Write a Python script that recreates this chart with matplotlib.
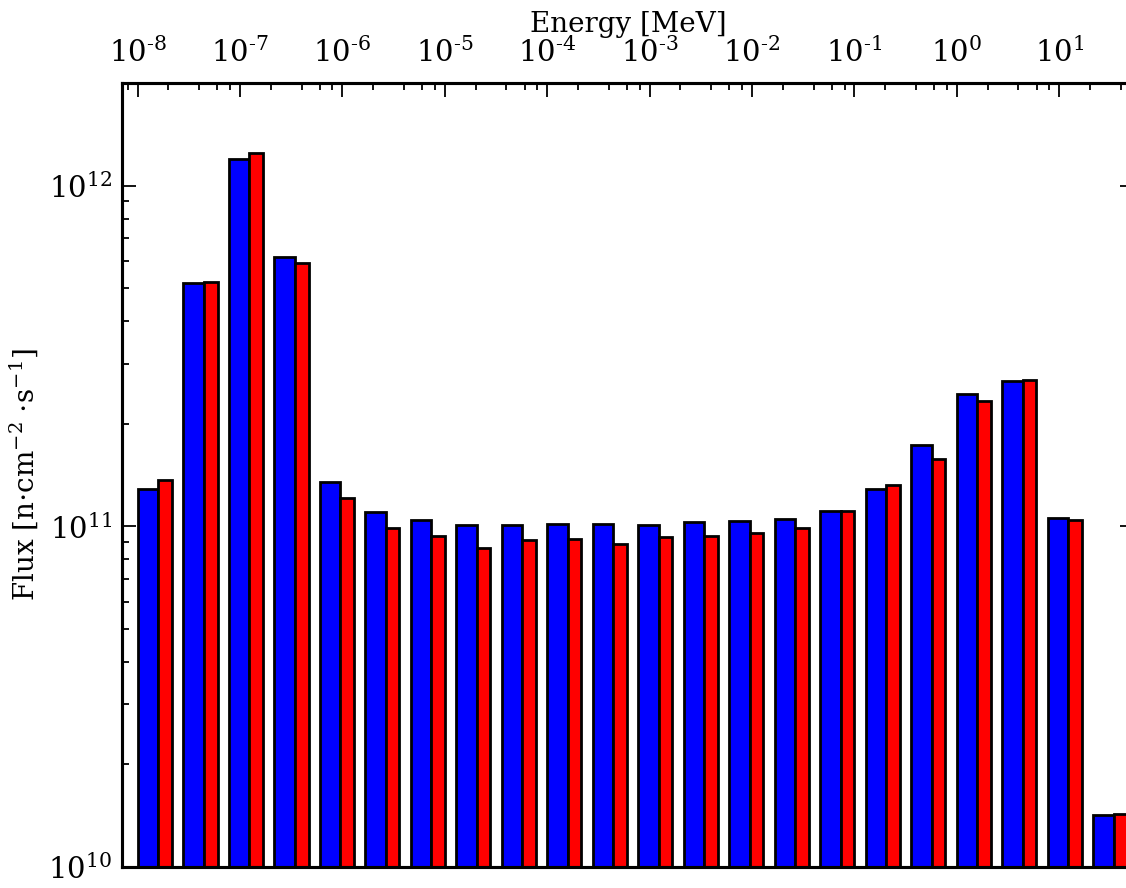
import numpy as np
import matplotlib.pyplot as plt
from matplotlib.ticker import LogLocator, NullFormatter, FuncFormatter

# flux per energy group, two cases (blue / red)
blue_flux = [1.29e11, 5.17e11, 1.197e12, 6.16e11, 1.349e11, 1.10e11, 1.041e11,
             1.007e11, 1.007e11, 1.014e11, 1.014e11, 1.007e11, 1.027e11, 1.034e11,
             1.048e11, 1.109e11, 1.284e11, 1.728e11, 2.44e11, 2.667e11, 1.06e11,
             1.42e10]
red_flux = [1.365e11, 5.23e11, 1.247e12, 5.94e11, 1.21e11, 9.9e10, 9.35e10,
            8.62e10, 9.1e10, 9.16e10, 8.85e10, 9.28e10, 9.35e10, 9.59e10,
            9.89e10, 1.109e11, 1.318e11, 1.575e11, 2.336e11, 2.686e11, 1.046e11,
            1.43e10]

plt.rcParams['font.family'] = 'DejaVu Serif'
plt.rcParams['mathtext.fontset'] = 'dejavuserif'

fig = plt.figure(figsize=(11.26, 8.88), dpi=100)
ax = fig.add_axes([0.1083, 0.0236, 0.8988, 0.8829])

x = np.arange(len(blue_flux))
ax.bar(x, blue_flux, width=0.45, align='edge', color='#0000ff', edgecolor='k', linewidth=2)
ax.bar(x + 0.45, red_flux, width=0.3, align='edge', color='#ff0000', edgecolor='k', linewidth=2)

ax.set_yscale('log')
ax.set_ylim(1e10, 2e12)
ax.set_xlim(-0.352, 21.9)
ax.set_xticks([])
ax.tick_params(axis='y', which='both', direction='in', right=True, labelsize=21, pad=7, width=1.3)
ax.tick_params(axis='y', which='major', length=10)
ax.tick_params(axis='y', which='minor', length=5)
ax.set_ylabel(r'Flux [n$\cdot$cm$^{-2}$ $\cdot$s$^{-1}$]', fontsize=20, labelpad=6)
for s in ax.spines.values():
    s.set_linewidth(2.2)

# energy axis on top
ax2 = ax.twiny()
ax2.set_xscale('log')
ax2.set_xlim(10**-8.153, 10**1.73)
ax2.xaxis.set_major_locator(LogLocator(base=10, numticks=20))
ax2.xaxis.set_minor_locator(LogLocator(base=10, subs=[2, 4, 6, 8], numticks=20))
ax2.xaxis.set_minor_formatter(NullFormatter())
ax2.xaxis.set_major_formatter(FuncFormatter(lambda v, p: r'$10^{\text{%d}}$' % round(np.log10(v))))
ax2.tick_params(axis='x', which='both', direction='in', labelsize=21, pad=11, width=1.3)
ax2.tick_params(axis='x', which='major', length=10)
ax2.tick_params(axis='x', which='minor', length=5)
ax2.set_xlabel('Energy [MeV]', fontsize=20, labelpad=4)
for s in ax2.spines.values():
    s.set_linewidth(2.2)

fig.savefig('out.png', dpi=100)
